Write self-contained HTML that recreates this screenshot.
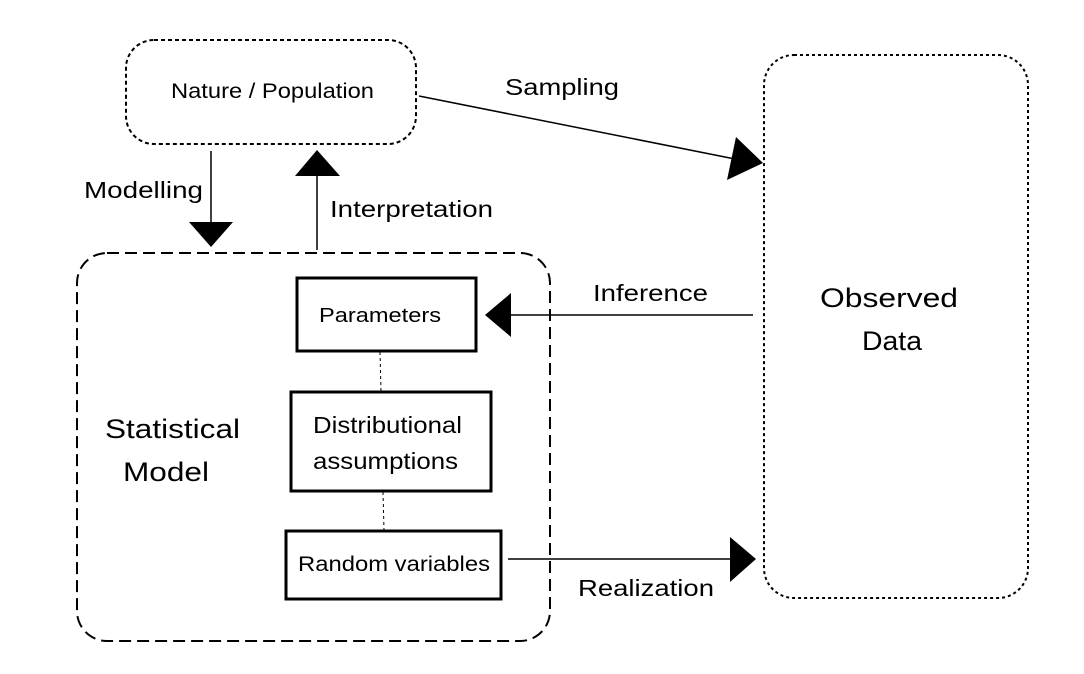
<!DOCTYPE html>
<html><head><meta charset="utf-8"><style>
body{margin:0;background:#fff}
svg{display:block}
text{font-family:"Liberation Sans",Arial,sans-serif;fill:#000}
</style></head><body>
<svg width="1084" height="674" viewBox="0 0 1084 674">
<rect x="126" y="40" width="290" height="104" rx="28" fill="none" stroke="#000" stroke-width="2" stroke-dasharray="4,3"/>
<text x="171" y="98" font-size="21" textLength="203" lengthAdjust="spacingAndGlyphs">Nature / Population</text>
<rect x="764" y="55" width="264" height="543" rx="30" fill="none" stroke="#000" stroke-width="2" stroke-dasharray="3,3"/>
<text x="820" y="307" font-size="27" textLength="138" lengthAdjust="spacingAndGlyphs">Observed</text>
<text x="862" y="350" font-size="27" textLength="60" lengthAdjust="spacingAndGlyphs">Data</text>
<rect x="77" y="253" width="473" height="388" rx="30" fill="none" stroke="#000" stroke-width="2" stroke-dasharray="12,6"/>
<text x="105" y="438" font-size="27" textLength="135" lengthAdjust="spacingAndGlyphs">Statistical</text>
<text x="123" y="481" font-size="27" textLength="86" lengthAdjust="spacingAndGlyphs">Model</text>
<rect x="297" y="278" width="179" height="73" fill="none" stroke="#000" stroke-width="3"/>
<text x="319" y="322" font-size="20" textLength="122" lengthAdjust="spacingAndGlyphs">Parameters</text>
<rect x="291" y="392" width="200" height="99" fill="none" stroke="#000" stroke-width="3"/>
<text x="313" y="433" font-size="23" textLength="149" lengthAdjust="spacingAndGlyphs">Distributional</text>
<text x="313" y="469" font-size="23" textLength="145" lengthAdjust="spacingAndGlyphs">assumptions</text>
<rect x="286" y="531" width="215" height="68" fill="none" stroke="#000" stroke-width="3"/>
<text x="298" y="571" font-size="21" textLength="192" lengthAdjust="spacingAndGlyphs">Random variables</text>
<line x1="380" y1="352" x2="381" y2="391" stroke="#000" stroke-dasharray="3,3"/>
<line x1="383" y1="492" x2="384" y2="530" stroke="#000" stroke-dasharray="3,3"/>
<line x1="211" y1="151" x2="211" y2="225" stroke="#000" stroke-width="1.5"/>
<polygon points="189,222 233,222 211,247" fill="#000"/>
<text x="84" y="198" font-size="23" textLength="119" lengthAdjust="spacingAndGlyphs">Modelling</text>
<line x1="317" y1="250" x2="317" y2="175" stroke="#000" stroke-width="1.5"/>
<polygon points="295,176 340,176 317,150" fill="#000"/>
<text x="330" y="217" font-size="23" textLength="163" lengthAdjust="spacingAndGlyphs">Interpretation</text>
<line x1="419" y1="96" x2="735" y2="159" stroke="#000" stroke-width="1.5"/>
<polygon points="763,163 727,180 736,137" fill="#000"/>
<text x="505" y="95" font-size="23" textLength="114" lengthAdjust="spacingAndGlyphs">Sampling</text>
<line x1="753" y1="315" x2="505" y2="315" stroke="#000" stroke-width="1.5"/>
<polygon points="485,315 511,293 511,337" fill="#000"/>
<text x="593" y="301" font-size="23" textLength="115" lengthAdjust="spacingAndGlyphs">Inference</text>
<line x1="508" y1="559" x2="735" y2="559" stroke="#000" stroke-width="1.5"/>
<polygon points="756,559 730,537 730,582" fill="#000"/>
<text x="578" y="596" font-size="23" textLength="136" lengthAdjust="spacingAndGlyphs">Realization</text>
</svg>
</body></html>
